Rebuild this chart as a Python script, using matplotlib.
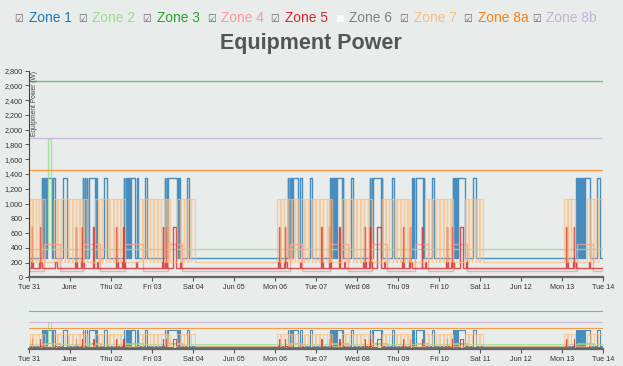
import matplotlib
matplotlib.use("Agg")
import matplotlib.pyplot as plt

# hours from Tue 31 00:00
day_ticks = [0, 24, 48, 72, 96, 120, 144, 168, 192, 216, 240, 264, 288, 312, 336]
day_labels = ["Tue 31", "June", "Thu 02", "Fri 03", "Sat 04", "Jun 05", "Mon 06", "Tue 07",
              "Wed 08", "Thu 09", "Fri 10", "Sat 11", "Jun 12", "Mon 13", "Tue 14"]
y_ticks = [0, 200, 400, 600, 800, 1000, 1200, 1400, 1600, 1800, 2000, 2200, 2400, 2600, 2800]

zones = ["Zone 1", "Zone 2", "Zone 3", "Zone 4", "Zone 5", "Zone 6", "Zone 7", "Zone 8a", "Zone 8b"]
zone_colors = ["#1f77b4", "#98df8a", "#2ca02c", "#ff9896", "#d62728", "#7f7f7f", "#ffbb78", "#ff7f0e", "#c5b0d5"]
zone_checked = [True, True, True, True, True, False, True, True, True]

# zone 1: base / high level and on-intervals
z1_low, z1_high = 262, 1340
z1_on = [(7.4, 7.7), (8.4, 8.8), (9.5, 9.8), (10.3, 13.3), (14.2, 15.0), (20.1, 22.0),
         (31.6, 31.9), (32.6, 33.0), (33.7, 34.0), (34.9, 38.6), (39.3, 39.8), (44.1, 45.5),
         (55.6, 55.9), (56.6, 57.0), (57.6, 57.9), (58.6, 58.9), (59.6, 62.0), (63.0, 63.8), (68.0, 69.2),
         (79.6, 79.9), (80.6, 81.0), (81.5, 86.4), (87.0, 87.4), (88.0, 88.6), (92.3, 93.8),
         (151.6, 151.9), (152.6, 153.0), (153.6, 153.9), (154.5, 157.5), (158.6, 159.8), (164.5, 165.7),
         (176.2, 176.5), (177.2, 177.5), (178.2, 178.5), (179.2, 179.5), (180.3, 183.2), (183.6, 183.9), (188.5, 189.7),
         (199.6, 199.9), (200.6, 200.9), (201.6, 205.8), (206.4, 206.7), (212.5, 213.7),
         (224.2, 224.5), (225.2, 225.5), (226.7, 230.6), (231.2, 231.5), (235.9, 237.1),
         (248.0, 248.3), (249.0, 249.3), (250.0, 250.3), (250.9, 255.2), (260.1, 261.7),
         (320.2, 320.5), (321.2, 321.5), (322.2, 322.5), (323.2, 323.5), (324.3, 324.8), (325.5, 328.4), (332.3, 334.2)]

z2_low, z2_high = 380, 1880
z2_on = [(11.2, 13.0)]

z3_level = 2660

z4_low, z4_high = 92, 447
z4_on = [(8.8, 18.0), (31.6, 41.4), (56.2, 66.7), (81.4, 89.6), (152.8, 159.8), (176.2, 186.7),
         (200.8, 209.6), (226.0, 233.6), (248.2, 256.4), (320.8, 330.0)]

z5_base = 130
z5_pulses = [(1.0, 1.5, 210), (1.5, 1.9, 680), (1.9, 2.5, 210), (5.8, 6.2, 210), (6.2, 6.6, 680), (6.6, 7.4, 210), (15.5, 16.3, 210),
             (27.0, 27.3, 210), (27.3, 27.7, 680), (27.7, 28.2, 210), (30.6, 30.8, 210), (30.8, 31.2, 680), (31.2, 32.0, 210), (37.6, 38.0, 680), (40.0, 40.6, 210),
             (50.8, 51.1, 210), (51.1, 51.5, 680), (51.5, 52.0, 210), (54.6, 55.0, 210), (55.0, 55.4, 680), (55.4, 56.2, 210), (62.8, 63.4, 210),
             (77.8, 78.2, 210), (78.2, 78.6, 680), (79.8, 80.0, 210), (80.0, 80.4, 680), (80.4, 81.0, 210), (84.0, 86.0, 680), (88.4, 89.0, 210),
             (146.0, 146.3, 210), (146.3, 146.7, 680), (146.7, 147.2, 210), (149.4, 149.7, 210), (149.7, 150.1, 680), (150.1, 150.8, 210), (158.4, 159.0, 210),
             (170.8, 171.1, 210), (171.1, 171.5, 680), (171.5, 172.0, 210), (175.4, 175.6, 210), (175.6, 176.0, 680), (176.0, 176.8, 210), (181.4, 182.0, 680), (184.2, 184.8, 210),
             (195.8, 196.1, 210), (196.1, 196.5, 680), (196.5, 197.0, 210), (199.2, 199.4, 210), (199.4, 199.8, 680), (199.8, 200.6, 210), (203.9, 205.9, 680), (208.0, 208.6, 210),
             (218.6, 218.9, 210), (218.9, 219.3, 680), (219.3, 219.8, 210), (222.6, 222.8, 210), (222.8, 223.2, 680), (223.2, 224.0, 210), (229.8, 230.2, 680), (232.0, 232.6, 210),
             (244.2, 244.5, 210), (244.5, 244.9, 680), (244.9, 245.4, 210), (247.2, 247.4, 210), (247.4, 247.8, 680), (247.8, 248.6, 210), (252.3, 254.2, 680), (256.0, 256.6, 210),
             (314.2, 314.5, 210), (314.5, 314.9, 680), (314.9, 315.4, 210), (318.6, 318.8, 210), (318.8, 319.2, 680), (319.2, 320.0, 210), (328.0, 328.6, 210)]

z7_low, z7_high = 204, 1058
z7_on = [(0.6, 2.0), (2.3, 3.9), (4.2, 5.6), (5.9, 7.5), (7.8, 9.4),
         (14.6, 16.4), (16.7, 18.5), (18.8, 20.9), (21.2, 23.0), (23.3, 25.2), (25.5, 27.4), (27.7, 29.5), (29.8, 31.8), (32.1, 34.0),
         (38.6, 40.5), (40.8, 42.6), (42.9, 44.8), (45.1, 47.0), (47.3, 49.2), (49.5, 51.3), (51.6, 53.5), (53.8, 56.2),
         (64.4, 66.2), (66.5, 68.4), (68.7, 70.6), (70.9, 72.8), (73.1, 75.0), (75.3, 77.2), (77.5, 79.4), (79.7, 80.8), (81.1, 82.5),
         (86.6, 88.4), (88.7, 90.5), (90.8, 92.6), (92.9, 94.8), (95.1, 97.2),
         (145.2, 147.0), (147.3, 149.2), (149.5, 151.4), (151.7, 153.6), (153.9, 155.6), (155.9, 157.5),
         (159.2, 161.0), (161.3, 163.2), (163.5, 165.4), (165.7, 167.6), (167.9, 169.8), (170.1, 172.0), (172.3, 174.2), (174.5, 175.9), (176.2, 177.4),
         (183.2, 185.0), (185.3, 187.2), (187.5, 189.4), (189.7, 191.6), (191.9, 193.8), (194.1, 196.0), (196.3, 198.2), (198.5, 200.8),
         (206.6, 208.4), (208.7, 210.6), (210.9, 212.8), (213.1, 215.0), (215.3, 217.2), (217.5, 219.4), (219.7, 221.4), (221.7, 223.0),
         (231.8, 233.6), (233.9, 235.8), (236.1, 238.0), (238.3, 240.2), (240.5, 242.4), (242.7, 244.6), (244.9, 246.6), (246.9, 248.2),
         (255.2, 257.0), (257.3, 259.2), (259.5, 261.4), (261.7, 263.6), (263.9, 265.8),
         (313.2, 315.0), (315.3, 317.2), (317.5, 319.6),
         (326.6, 328.4), (328.7, 330.6), (330.9, 332.8), (333.1, 336.0)]

z8a_level = 1458
z8b_level = 1888

t_end = 336


def steps(pulses, base):
    xs, ys = [0], [base]
    for s, e, v in pulses:
        xs += [s, e]
        ys += [v, base]
    xs.append(t_end)
    ys.append(base)
    return xs, ys


def on_off(intervals, low, high):
    return steps([(s, e, high) for s, e in intervals], low)


series = [
    (on_off(z1_on, z1_low, z1_high), zone_colors[0], 0.8),
    (on_off(z2_on, z2_low, z2_high), zone_colors[1], 0.8),
    (([0, t_end], [z3_level, z3_level]), zone_colors[2], 0.6),
    (on_off(z4_on, z4_low, z4_high), zone_colors[3], 0.8),
    (steps(z5_pulses, z5_base), zone_colors[4], 0.8),
    (on_off(z7_on, z7_low, z7_high), zone_colors[6], 0.7),
    (([0, t_end], [z8a_level, z8a_level]), zone_colors[7], 0.75),
    (([0, t_end], [z8b_level, z8b_level]), zone_colors[8], 0.8),
]

bg = "#e8edec"
fig = plt.figure(figsize=(6.23, 3.66), dpi=100, facecolor=bg)
plt.rcParams['font.family'] = ['Liberation Sans', 'DejaVu Sans']

ax = fig.add_axes([29 / 623, 1 - 277.3 / 366, 574 / 623, 206.6 / 366])
nav = fig.add_axes([29 / 623, 1 - 349.3 / 366, 574 / 623, 40.4 / 366])

for a, lw in [(ax, 1.0), (nav, 0.8)]:
    a.set_facecolor(bg)
    for (xs, ys), c, al in series:
        a.step(xs, ys, where="post", color=c, lw=lw, alpha=al)
    a.set_xlim(0, t_end)
    a.set_ylim(0, 2800)
    for s in ["top", "right"]:
        a.spines[s].set_visible(False)
    a.spines["bottom"].set_color("#666666")
    a.spines["bottom"].set_linewidth(1.6)
    a.set_xticks(day_ticks)
    a.set_xticklabels(day_labels)
    a.tick_params(axis="x", length=3, width=0.8, color="#555555", labelsize=5.2,
                  labelcolor="#333333", pad=1.5)

ax.spines["left"].set_color("#444444")
ax.spines["left"].set_linewidth(0.8)
ax.set_yticks(y_ticks)
ax.set_yticklabels([f"{v:,}" for v in y_ticks])
ax.tick_params(axis="y", length=3, width=0.7, color="#555555", labelsize=5.2,
               labelcolor="#333333", pad=1.5)

nav.spines["left"].set_visible(False)
nav.set_yticks([])

fig.text(34.5 / 623, 1 - 71.5 / 366, "Equipment Power (W)", rotation=90, ha="center", va="top",
         fontsize=4.8, color="#444444")

fig.text(311 / 623, 1 - 44 / 366, "Equipment Power", ha="center", va="center",
         fontsize=15.5, fontweight="bold", color="#555555")

# legend row with checkboxes
box_x = [18.6, 82.5, 147, 211.5, 275, 339, 403.6, 468, 536.5]
text_x = [29, 92.5, 157, 221, 285, 349, 413.5, 478, 545.6]
for name, c, chk, bx, tx in zip(zones, zone_colors, zone_checked, box_x, text_x):
    if chk:
        fig.text(bx / 623, 1 - 18.5 / 366, "\u2611", ha="center", va="center",
                 fontsize=7, color="#666666", family="DejaVu Sans")
    else:
        fig.text(bx / 623, 1 - 18.5 / 366, "\u25a0", ha="center", va="center",
                 fontsize=6.5, color="#fbfbfb", family="DejaVu Sans")
    fig.text(tx / 623, 1 - 17.5 / 366, name, ha="left", va="center", fontsize=9.9, color=c)

fig.savefig("out.png", dpi=100, facecolor=bg)
